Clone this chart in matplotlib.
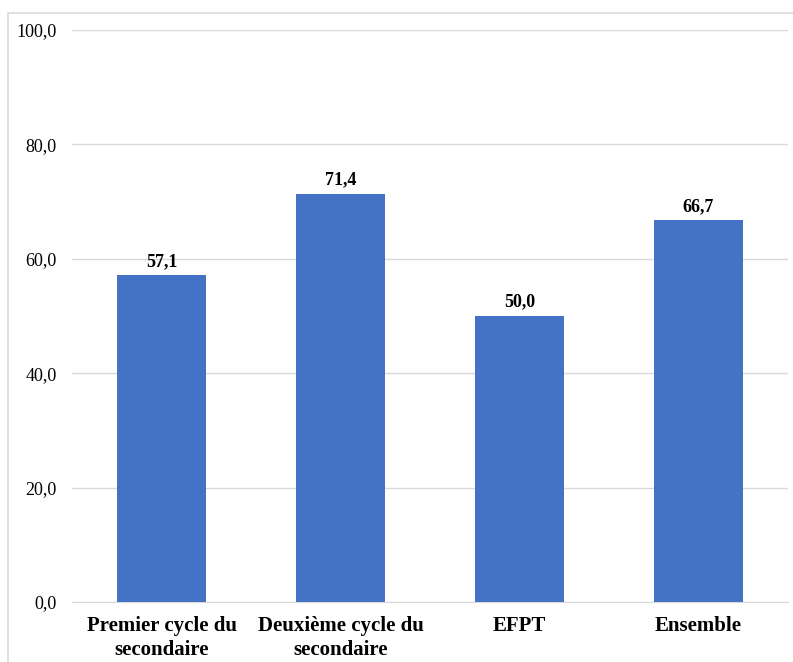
import matplotlib.pyplot as plt
from matplotlib.patches import Rectangle

categories = ["Premier cycle du\nsecondaire", "Deuxième cycle du\nsecondaire", "EFPT", "Ensemble"]
values = [57.1, 71.4, 50.0, 66.7]
yticks = [0, 20, 40, 60, 80, 100]

plt.rcParams['font.family'] = ['Liberation Serif', 'DejaVu Serif']

fig = plt.figure(figsize=(7.93, 6.62), dpi=100)
ax = fig.add_axes([0.0908, 0.0906, 0.9029, 0.8641])

# cadre du graphique (coupé à droite et en bas)
fig.patches.append(Rectangle((8 / 793, -0.05), 1.1, 1 - 13 / 662 + 0.05,
                             transform=fig.transFigure, fill=False,
                             edgecolor='#d9d9d9', linewidth=1.2))

x = range(len(categories))
bars = ax.bar(x, values, width=0.5, color='#4472C4', zorder=3)

for b, v in zip(bars, values):
    ax.annotate(f"{v:.1f}".replace('.', ','), (b.get_x() + b.get_width() / 2, v),
                xytext=(0, 4), textcoords='offset points', ha='center', va='bottom',
                fontsize=13, fontweight='bold')

ax.set_xlim(-0.5, len(categories) - 0.5)
ax.set_ylim(0, 100)
ax.set_yticks(yticks)
ax.set_yticklabels([f"{t:.1f}".replace('.', ',') for t in yticks], fontsize=13)
ax.set_xticks(list(x))
ax.set_xticklabels(categories, fontsize=15, fontweight='bold', linespacing=1.25)

ax.grid(axis='y', color='#d9d9d9', linewidth=1, zorder=0)
for s in ['top', 'right', 'left']:
    ax.spines[s].set_visible(False)
ax.spines['bottom'].set_color('#d9d9d9')
ax.tick_params(axis='both', length=0)
ax.tick_params(axis='y', pad=11)
ax.tick_params(axis='x', pad=10)

fig.savefig('out.png', dpi=100)
